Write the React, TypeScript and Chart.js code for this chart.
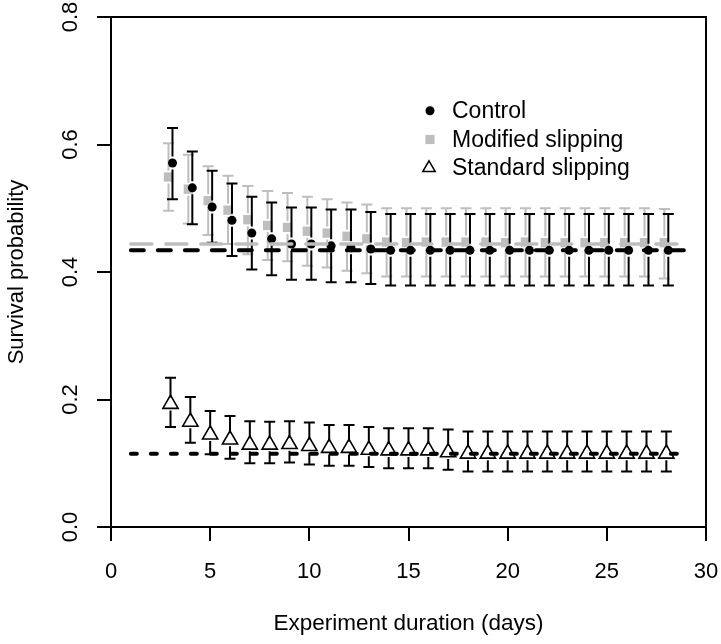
import { useEffect, useRef } from 'react';
import { Chart, registerables } from 'chart.js';

Chart.register(...registerables);

const days = [3, 4, 5, 6, 7, 8, 9, 10, 11, 12, 13, 14, 15, 16, 17, 18, 19, 20, 21, 22, 23, 24, 25, 26, 27, 28];

const controlMean = [0.571, 0.532, 0.502, 0.481, 0.461, 0.452, 0.444, 0.444, 0.441, 0.438, 0.436, 0.434, 0.434, 0.434, 0.434, 0.434, 0.434, 0.434, 0.434, 0.434, 0.434, 0.434, 0.434, 0.434, 0.434, 0.434];
const controlHigh = [0.626, 0.589, 0.559, 0.539, 0.518, 0.509, 0.501, 0.501, 0.498, 0.498, 0.494, 0.491, 0.491, 0.491, 0.491, 0.491, 0.491, 0.491, 0.491, 0.491, 0.491, 0.491, 0.491, 0.491, 0.491, 0.491];
const controlLow = [0.514, 0.475, 0.446, 0.425, 0.404, 0.395, 0.388, 0.388, 0.384, 0.384, 0.381, 0.379, 0.379, 0.379, 0.379, 0.379, 0.379, 0.379, 0.379, 0.379, 0.379, 0.379, 0.379, 0.379, 0.379, 0.379];

const modifiedMean = [0.549, 0.530, 0.512, 0.497, 0.482, 0.473, 0.470, 0.464, 0.461, 0.456, 0.452, 0.447, 0.446, 0.447, 0.447, 0.447, 0.447, 0.446, 0.447, 0.446, 0.446, 0.446, 0.446, 0.446, 0.446, 0.446];
const modifiedHigh = [0.602, 0.584, 0.566, 0.551, 0.535, 0.527, 0.524, 0.518, 0.514, 0.509, 0.506, 0.500, 0.500, 0.500, 0.500, 0.500, 0.500, 0.500, 0.500, 0.500, 0.500, 0.500, 0.500, 0.500, 0.500, 0.499];
const modifiedLow = [0.496, 0.476, 0.458, 0.444, 0.428, 0.419, 0.417, 0.410, 0.407, 0.402, 0.398, 0.393, 0.393, 0.393, 0.393, 0.393, 0.393, 0.393, 0.393, 0.393, 0.393, 0.393, 0.393, 0.393, 0.393, 0.390];

const standardMean = [0.193, 0.165, 0.145, 0.137, 0.129, 0.129, 0.130, 0.127, 0.124, 0.124, 0.121, 0.120, 0.120, 0.120, 0.117, 0.115, 0.115, 0.115, 0.115, 0.115, 0.115, 0.115, 0.115, 0.115, 0.115, 0.115];
const standardHigh = [0.234, 0.204, 0.182, 0.174, 0.166, 0.165, 0.166, 0.164, 0.160, 0.160, 0.157, 0.155, 0.155, 0.155, 0.153, 0.150, 0.150, 0.150, 0.150, 0.150, 0.150, 0.150, 0.150, 0.150, 0.150, 0.150];
const standardLow = [0.157, 0.132, 0.114, 0.107, 0.100, 0.100, 0.101, 0.098, 0.096, 0.096, 0.094, 0.092, 0.092, 0.092, 0.090, 0.087, 0.087, 0.087, 0.087, 0.087, 0.087, 0.087, 0.087, 0.087, 0.087, 0.087];

// horizontal reference levels, drawn from day 1 to day 29
const refSpan = [1, 29];
const controlRef = 0.434;
const modifiedRef = 0.444;
const standardRef = 0.115;

// small horizontal jitter so overlapping series stay visible
const controlShift = 0.1;
const modifiedShift = -0.1;

const seriesLabels = ['Control', 'Modified slipping', 'Standard slipping'];
const xTitle = 'Experiment duration (days)';
const yTitle = 'Survival probability';
const xRange = [0, 30];
const yRange = [0, 0.8];
const xStep = 5;
const yStep = 0.2;

const FONT = '"Liberation Sans", Arial, Helvetica, sans-serif';
const GRAY = '#bebebe';

export default function App() {
  const ref = useRef<HTMLCanvasElement | null>(null);

  useEffect(() => {
    const canvas = ref.current;
    if (!canvas) return;

    const errorBarPlugin = {
      id: 'errorBars',
      afterDatasetDraw(chart: any, args: any) {
        const ds = chart.data.datasets[args.index] as any;
        if (!ds.errHigh) return;
        const ctx = chart.ctx;
        const xs = chart.scales.x;
        const ys = chart.scales.y;
        const gap = 6.5;
        const cap = 5.5;
        ctx.save();
        ctx.strokeStyle = ds.errColor;
        ctx.lineWidth = 2;
        ctx.lineCap = 'butt';
        ds.data.forEach((p: any, i: number) => {
          const px = xs.getPixelForValue(p.x);
          const pm = ys.getPixelForValue(p.y);
          const ph = ys.getPixelForValue(ds.errHigh[i]);
          const pl = ys.getPixelForValue(ds.errLow[i]);
          ctx.beginPath();
          if (pm - gap > ph) {
            ctx.moveTo(px, ph);
            ctx.lineTo(px, pm - gap);
          }
          if (pm + gap < pl) {
            ctx.moveTo(px, pm + gap);
            ctx.lineTo(px, pl);
          }
          ctx.moveTo(px - cap, ph);
          ctx.lineTo(px + cap, ph);
          ctx.moveTo(px - cap, pl);
          ctx.lineTo(px + cap, pl);
          ctx.stroke();
        });
        ctx.restore();
      },
    };

    const decorPlugin = {
      id: 'decor',
      afterDraw(chart: any) {
        const ctx = chart.ctx;
        const { left, right, top, bottom } = chart.chartArea;
        ctx.save();
        // box
        ctx.strokeStyle = '#000';
        ctx.lineWidth = 2;
        ctx.strokeRect(left, top, right - left, bottom - top);
        // y tick labels (vertical, as in R)
        const ys = chart.scales.y;
        ctx.fillStyle = '#000';
        ctx.font = `22px ${FONT}`;
        ctx.textAlign = 'center';
        ctx.textBaseline = 'middle';
        ys.ticks.forEach((t: any) => {
          const py = ys.getPixelForValue(t.value);
          ctx.save();
          ctx.translate(71, py);
          ctx.rotate(-Math.PI / 2);
          ctx.fillText(Number(t.value).toFixed(1), 0, 0);
          ctx.restore();
        });
        // legend
        const lx = 430;
        const tx = 452;
        const rows = [110.7, 139.5, 168];
        ctx.font = `23px ${FONT}`;
        ctx.textAlign = 'left';
        ctx.textBaseline = 'middle';
        seriesLabels.forEach((lab, i) => {
          const y = rows[i];
          if (i === 0) {
            ctx.fillStyle = '#000';
            ctx.beginPath();
            ctx.arc(lx, y, 4.5, 0, Math.PI * 2);
            ctx.fill();
          } else if (i === 1) {
            ctx.fillStyle = GRAY;
            ctx.fillRect(lx - 4.6, y - 4.6, 9.2, 9.2);
          } else {
            const r = 7.2;
            ctx.strokeStyle = '#000';
            ctx.lineWidth = 1.5;
            ctx.beginPath();
            ctx.moveTo(lx - 1, y - r);
            ctx.lineTo(lx - 1 + r * 0.866, y + r / 2);
            ctx.lineTo(lx - 1 - r * 0.866, y + r / 2);
            ctx.closePath();
            ctx.stroke();
          }
          ctx.fillStyle = '#000';
          ctx.fillText(lab, tx, y + 1);
        });
        ctx.restore();
      },
    };

    const refLine = (y: number, dash: number[], color: string, width: number) => ({
      type: 'line' as const,
      data: refSpan.map((x) => ({ x, y })),
      borderColor: color,
      borderWidth: width,
      borderDash: dash,
      borderCapStyle: 'round' as const,
      pointRadius: 0,
      fill: false,
      tension: 0,
    });

    const chart = new Chart(canvas, {
      type: 'scatter',
      data: {
        datasets: [
          refLine(standardRef, [6, 14], '#000', 4),
          refLine(controlRef, [13, 14], '#000', 4),
          refLine(modifiedRef, [21, 14], GRAY, 3.5),
          {
            type: 'scatter',
            label: seriesLabels[2],
            data: days.map((d, i) => ({ x: d, y: standardMean[i] })),
            pointStyle: 'triangle',
            pointRadius: 8.8,
            backgroundColor: 'rgba(0,0,0,0)',
            borderColor: '#000',
            borderWidth: 1.6,
            errHigh: standardHigh,
            errLow: standardLow,
            errColor: '#000',
          } as any,
          {
            type: 'scatter',
            label: seriesLabels[0],
            data: days.map((d, i) => ({ x: d + controlShift, y: controlMean[i] })),
            pointStyle: 'circle',
            pointRadius: 4.5,
            backgroundColor: '#000',
            borderColor: '#000',
            borderWidth: 0,
            errHigh: controlHigh,
            errLow: controlLow,
            errColor: '#000',
          } as any,
          {
            type: 'scatter',
            label: seriesLabels[1],
            data: days.map((d, i) => ({ x: d + modifiedShift, y: modifiedMean[i] })),
            pointStyle: 'rect',
            pointRadius: 6.6,
            backgroundColor: GRAY,
            borderColor: GRAY,
            borderWidth: 0,
            errHigh: modifiedHigh,
            errLow: modifiedLow,
            errColor: GRAY,
          } as any,
        ],
      },
      options: {
        responsive: false,
        animation: false,
        events: [],
        layout: { padding: { left: 0, top: 17, right: 15, bottom: 0 } },
        plugins: { legend: { display: false }, tooltip: { enabled: false } },
        scales: {
          x: {
            type: 'linear',
            min: xRange[0],
            max: xRange[1],
            ticks: {
              stepSize: xStep,
              color: '#000',
              font: { family: FONT, size: 22 },
              padding: 18,
              maxRotation: 0,
              minRotation: 0,
              autoSkip: false,
            },
            grid: { drawOnChartArea: false, drawTicks: true, tickLength: 14, color: '#000', lineWidth: 2 },
            border: { display: false },
            title: {
              display: true,
              text: xTitle,
              color: '#000',
              font: { family: FONT, size: 22.5 },
              padding: { top: 0, bottom: 7 },
            },
            afterFit: (s: any) => {
              s.height = 117;
              s.paddingLeft = 0;
              s.paddingRight = 0;
            },
          },
          y: {
            type: 'linear',
            min: yRange[0],
            max: yRange[1],
            ticks: { stepSize: yStep, display: false },
            grid: { drawOnChartArea: false, drawTicks: true, tickLength: 14, color: '#000', lineWidth: 2 },
            border: { display: false },
            title: {
              display: true,
              text: yTitle,
              color: '#000',
              font: { family: FONT, size: 22 },
              padding: { top: 4, bottom: 0 },
            },
            afterFit: (s: any) => {
              s.width = 111;
              s.paddingTop = 0;
              s.paddingBottom = 0;
            },
          },
        },
      },
      plugins: [errorBarPlugin, decorPlugin],
    });

    return () => chart.destroy();
  }, []);

  return (
    <div style={{ position: 'absolute', left: 0, top: 0, width: 721, height: 644, background: '#fff' }}>
      <canvas ref={ref} width={721} height={644} style={{ display: 'block' }} />
    </div>
  );
}
